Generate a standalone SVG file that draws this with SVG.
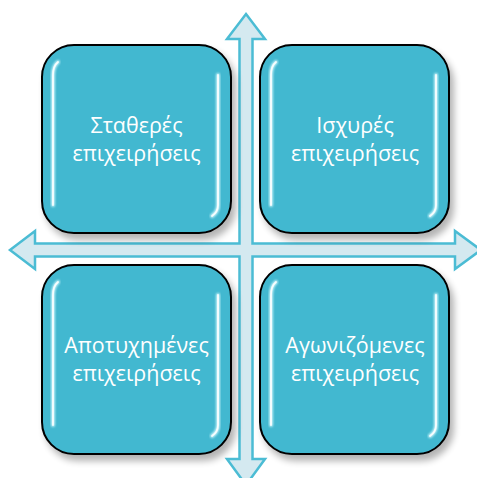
<svg xmlns="http://www.w3.org/2000/svg" width="477" height="478" viewBox="0 0 477 478">
<defs>
<filter id="sh" x="-20%" y="-20%" width="150%" height="150%">
<feGaussianBlur in="SourceAlpha" stdDeviation="3.5"/>
<feOffset dx="4" dy="6" result="o"/>
<feComponentTransfer><feFuncA type="linear" slope="0.3"/></feComponentTransfer>
<feMerge><feMergeNode/><feMergeNode in="SourceGraphic"/></feMerge>
</filter>
<filter id="gl" x="-50%" y="-10%" width="200%" height="120%">
<feGaussianBlur stdDeviation="0.9"/>
</filter>
</defs>
<style>
.box{fill:#43b8d0;stroke:#000;stroke-width:2;}
.hl{fill:none;stroke:#c6f3fa;stroke-width:4;stroke-linecap:round;filter:url(#gl);}
.hl2{fill:none;stroke:#fff;stroke-width:1.8;stroke-linecap:round;opacity:0.9;}
.t{font-family:"Open Sans","Noto Sans",sans-serif;font-size:21.5px;fill:#fff;text-anchor:middle;}
.arrow{fill:#d4e9f0;stroke:#4bbcd4;stroke-width:2.5;stroke-linejoin:miter;}
</style>
<g id="connectors">
<path class="arrow" d="M246,14 L265,39 L252.5,39 L252.5,243.5 L455,243.5 L455,231 L481,250 L455,269 L455,256.5 L252.5,256.5 L252.5,459 L265,459 L246,485 L227,459 L239.5,459 L239.5,256.5 L35,256.5 L35,269 L10,250 L35,231 L35,243.5 L239.5,243.5 L239.5,39 L227,39 Z"/>
</g>
<g id="node-tl">
<rect class="box" x="42" y="45" width="189" height="188" rx="32" filter="url(#sh)"/>
<path class="hl" d="M53,205 L53,75 Q53,66 58,62"/>
<path class="hl2" d="M53,205 L53,75 Q53,66 58,62"/>
<path class="hl" d="M218,75 L218,205 Q218,212 212,216"/>
<path class="hl2" d="M218,75 L218,205 Q218,212 212,216"/>
<text class="t" x="136.5" y="133">Σταθερές</text>
<text class="t" x="136.5" y="161">επιχειρήσεις</text>
</g>
<g id="node-tr">
<rect class="box" x="260" y="45" width="189" height="188" rx="32" filter="url(#sh)"/>
<path class="hl" d="M271,205 L271,75 Q271,66 276,62"/>
<path class="hl2" d="M271,205 L271,75 Q271,66 276,62"/>
<path class="hl" d="M436,75 L436,205 Q436,212 430,216"/>
<path class="hl2" d="M436,75 L436,205 Q436,212 430,216"/>
<text class="t" x="355" y="133">Ισχυρές</text>
<text class="t" x="355" y="161">επιχειρήσεις</text>
</g>
<g id="node-bl">
<rect class="box" x="42" y="265" width="189" height="189" rx="32" filter="url(#sh)"/>
<path class="hl" d="M53,425 L53,295 Q53,286 58,282"/>
<path class="hl2" d="M53,425 L53,295 Q53,286 58,282"/>
<path class="hl" d="M218,295 L218,425 Q218,432 212,436"/>
<path class="hl2" d="M218,295 L218,425 Q218,432 212,436"/>
<text class="t" x="136.5" y="353">Αποτυχημένες</text>
<text class="t" x="136.5" y="381">επιχειρήσεις</text>
</g>
<g id="node-br">
<rect class="box" x="260" y="265" width="189" height="189" rx="32" filter="url(#sh)"/>
<path class="hl" d="M271,425 L271,295 Q271,286 276,282"/>
<path class="hl2" d="M271,425 L271,295 Q271,286 276,282"/>
<path class="hl" d="M436,295 L436,425 Q436,432 430,436"/>
<path class="hl2" d="M436,295 L436,425 Q436,432 430,436"/>
<text class="t" x="355" y="353">Αγωνιζόμενες</text>
<text class="t" x="355" y="381">επιχειρήσεις</text>
</g>
</svg>
